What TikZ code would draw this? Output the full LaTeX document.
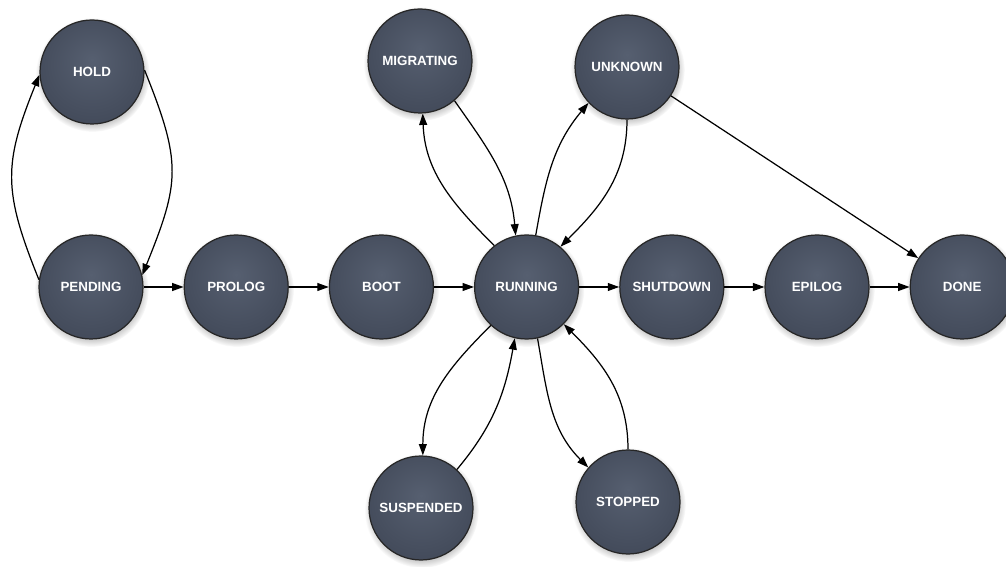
\documentclass[tikz,border=0pt]{standalone}
\usepackage{fontspec}
\setmainfont{Liberation Sans}
\usetikzlibrary{arrows.meta,positioning,shadows}
\definecolor{stateinner}{RGB}{86,95,112}
\definecolor{stateouter}{RGB}{56,63,78}
\pgfdeclareradialshading[stateinner,stateouter]{statefill}{\pgfpoint{0bp}{6bp}}{%
  color(0bp)=(stateinner); color(44bp)=(stateouter); color(50bp)=(stateouter)}
\tikzset{
  vmstate/.style={circle,draw=black!85,line width=0.7pt,shading=statefill,
    minimum size=2.08cm,inner sep=0pt,text=white,
    font=\fontsize{7.6}{9}\selectfont\bfseries,
    circular drop shadow={shadow xshift=0.3pt,shadow yshift=-1.4pt,opacity=0.45}},
  arrow/.style={-{Triangle[length=6.5pt,width=4.5pt]},line width=0.7pt}
}

\begin{document}
\begin{tikzpicture}[x=0.02cm,y=0.02cm,node distance=0.8cm]
\useasboundingbox (0,0) rectangle (1006,567);
% main row
\node[vmstate] (pending) at (91,280) {PENDING};
\node[vmstate,right=of pending] (prolog) {PROLOG};
\node[vmstate,right=of prolog] (boot) {BOOT};
\node[vmstate,right=of boot] (running) {RUNNING};
\node[vmstate,right=of running] (shutdown) {SHUTDOWN};
\node[vmstate,right=of shutdown] (epilog) {EPILOG};
\node[vmstate,right=of epilog] (done) {DONE};
% side states
\node[vmstate] (hold) at (92,495) {HOLD};
\node[vmstate] (migrating) at (420,506) {MIGRATING};
\node[vmstate] (unknown) at (627,500) {UNKNOWN};
\node[vmstate] (suspended) at (421,59) {SUSPENDED};
\node[vmstate] (stopped) at (628,65) {STOPPED};
% transitions
\draw[arrow] (pending)--(prolog); \draw[arrow] (prolog)--(boot);
\draw[arrow] (boot)--(running); \draw[arrow] (running)--(shutdown);
\draw[arrow] (shutdown)--(epilog); \draw[arrow] (epilog)--(done);
\draw[arrow] (unknown)--(done);
\draw[arrow] (pending.172) to[out=112,in=248,looseness=1.2] (hold.183);
\draw[arrow] (hold.2) to[out=-68,in=68,looseness=1.25] (pending.13);
\draw[arrow] (running.128) to[out=135,in=272] (migrating.273);
\draw[arrow] (migrating.-49) to[out=-55,in=95] (running.102);
\draw[arrow] (running.80) to[out=80,in=230] (unknown.223);
\draw[arrow] (unknown.270) to[out=270,in=45] (running.50);
\draw[arrow] (running.227) to[out=225,in=90] (suspended.88);
\draw[arrow] (suspended.47) to[out=50,in=260] (running.257);
\draw[arrow] (running.282) to[out=-80,in=135] (stopped.139);
\draw[arrow] (stopped.90) to[out=90,in=-45] (running.-45);
\end{tikzpicture}
\end{document}
